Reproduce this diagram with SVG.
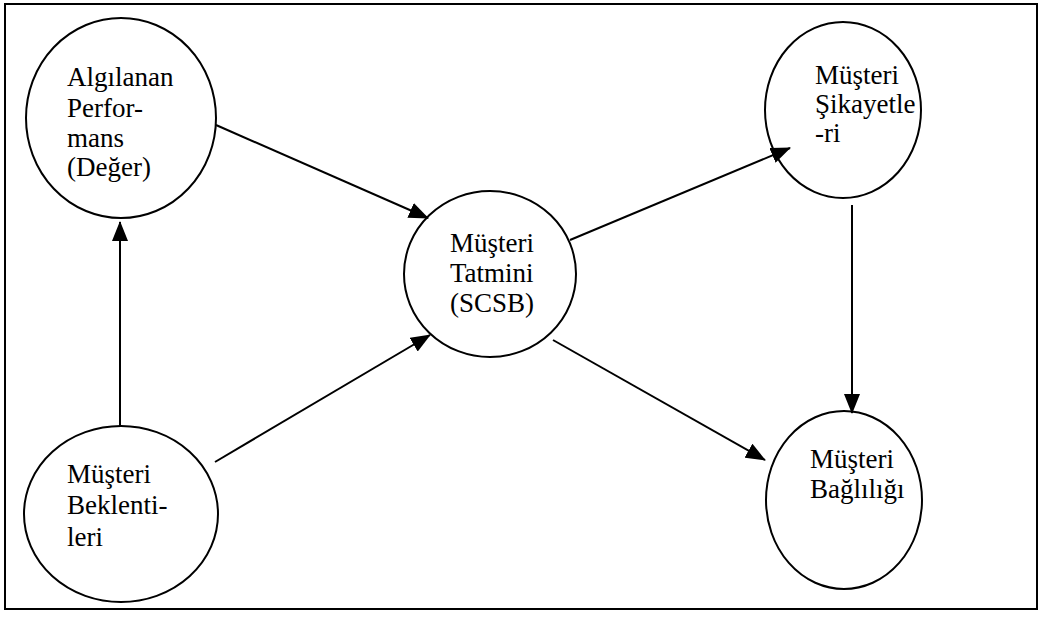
<svg xmlns="http://www.w3.org/2000/svg" width="1042" height="622" viewBox="0 0 1042 622">
<style>
.n{fill:none;stroke:#000;stroke-width:2}
.t{font-family:"Liberation Serif","Times New Roman",serif;font-size:27px;fill:#000}
.c{stroke:#000;stroke-width:2;fill:none}
</style>
<defs>
<marker id="ah" markerWidth="20" markerHeight="16" refX="19" refY="8" orient="auto" markerUnits="userSpaceOnUse">
<path d="M0,0 L20,8 L0,16 Z" fill="#000"/>
</marker>
</defs>
<rect x="5" y="4" width="1032" height="605" fill="#fff" stroke="#000" stroke-width="2"/>
<g id="connectors">
<line class="c" x1="120" y1="426" x2="120" y2="222" marker-end="url(#ah)"/>
<line class="c" x1="216" y1="125" x2="428" y2="218" marker-end="url(#ah)"/>
<line class="c" x1="215" y1="462" x2="430" y2="335" marker-end="url(#ah)"/>
<line class="c" x1="570" y1="240" x2="790" y2="148" marker-end="url(#ah)"/>
<line class="c" x1="553" y1="340" x2="765" y2="460" marker-end="url(#ah)"/>
<line class="c" x1="852" y1="205" x2="852" y2="413" marker-end="url(#ah)"/>
</g>
<g id="algilanan">
<ellipse class="n" cx="121" cy="118" rx="95" ry="100"/>
<text class="t" x="67" y="86">Algılanan</text>
<text class="t" x="67" y="117">Perfor-</text>
<text class="t" x="67" y="147">mans</text>
<text class="t" x="67" y="176">(Değer)</text>
</g>
<g id="beklentileri">
<ellipse class="n" cx="121" cy="514" rx="97" ry="88"/>
<text class="t" x="67" y="483">Müşteri</text>
<text class="t" x="67" y="514">Beklenti-</text>
<text class="t" x="67" y="546">leri</text>
</g>
<g id="tatmin">
<ellipse class="n" cx="490" cy="274" rx="86" ry="83"/>
<text class="t" x="450" y="252">Müşteri</text>
<text class="t" x="450" y="282">Tatmini</text>
<text class="t" x="450" y="312">(SCSB)</text>
</g>
<g id="sikayetleri">
<ellipse class="n" cx="843" cy="110" rx="78" ry="88"/>
<text class="t" x="815" y="84">Müşteri</text>
<text class="t" x="815" y="113">Şikayetle</text>
<text class="t" x="815" y="142">-ri</text>
</g>
<g id="baglilik">
<ellipse class="n" cx="844" cy="500" rx="78" ry="89"/>
<text class="t" x="810" y="468">Müşteri</text>
<text class="t" x="810" y="498">Bağlılığı</text>
</g>
</svg>
